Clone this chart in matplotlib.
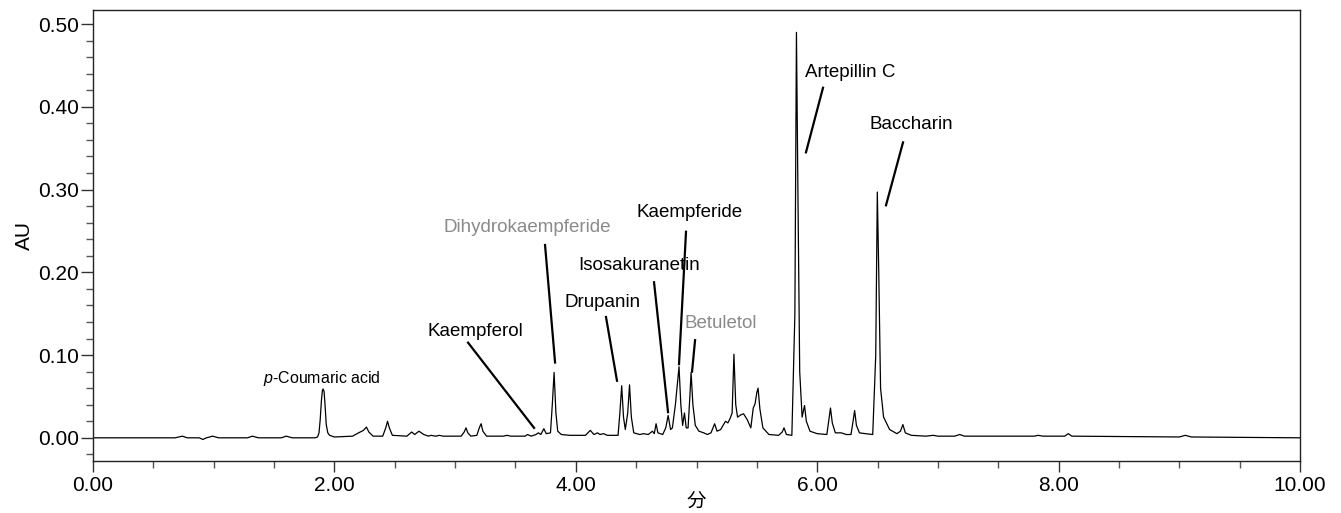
import matplotlib
matplotlib.use("Agg")
import matplotlib.pyplot as plt
from matplotlib.ticker import MultipleLocator, FormatStrFormatter

# chromatogram trace (retention time in min, absorbance in AU)
time_min = [
    0.00, 0.68, 0.74, 0.78, 0.88, 0.91, 0.94, 0.99, 1.04, 1.28, 1.32, 1.37,
    1.56, 1.60, 1.65, 1.84,
    1.86, 1.872, 1.882, 1.892, 1.900, 1.906, 1.914, 1.922, 1.932, 1.945, 1.96, 2.00,
    2.15, 2.20, 2.24, 2.265, 2.285, 2.32, 2.40, 2.425, 2.44, 2.455, 2.48,
    2.60, 2.64, 2.665, 2.70, 2.74, 2.78, 2.80, 2.84, 2.87, 2.90,
    3.05, 3.075, 3.09, 3.105, 3.13, 3.18, 3.20, 3.215, 3.23, 3.26,
    3.40, 3.43, 3.46, 3.58, 3.60, 3.63, 3.67, 3.69, 3.71, 3.735, 3.755,
    3.79, 3.805, 3.82, 3.835, 3.85, 3.88, 3.95,
    4.08, 4.12, 4.15, 4.18, 4.20, 4.23, 4.26,
    4.35, 4.365, 4.38, 4.395, 4.41, 4.43, 4.445, 4.46, 4.48,
    4.53, 4.56, 4.60, 4.635, 4.65, 4.665, 4.68, 4.72, 4.745, 4.765, 4.785,
    4.80, 4.825, 4.855, 4.87, 4.885, 4.90, 4.915, 4.93, 4.945, 4.955, 4.97,
    4.99, 5.02, 5.06, 5.09, 5.12, 5.15, 5.17, 5.20, 5.24, 5.26, 5.28, 5.295,
    5.31, 5.325, 5.34, 5.37, 5.39, 5.42, 5.45, 5.47, 5.485, 5.50, 5.51,
    5.525, 5.55, 5.60, 5.68, 5.71, 5.725, 5.745, 5.79,
    5.815, 5.828, 5.84, 5.855, 5.875, 5.895, 5.91, 5.94, 6.00,
    6.08, 6.095, 6.11, 6.125, 6.15, 6.20, 6.24, 6.28, 6.295, 6.31, 6.325,
    6.35, 6.40, 6.46, 6.485, 6.498, 6.51, 6.525, 6.55, 6.60, 6.66, 6.69,
    6.71, 6.73, 6.78, 6.90, 6.96, 7.00, 7.14, 7.18, 7.22, 7.60, 7.80, 7.83,
    7.87, 8.05, 8.08, 8.11, 9.00, 9.05, 9.10, 9.50, 10.00,
]
absorbance = [
    0.000, 0.000, 0.002, 0.000, 0.000, -0.002, 0.000, 0.002, 0.000, 0.000, 0.002, 0.000,
    0.000, 0.002, 0.000, 0.000,
    0.001, 0.006, 0.022, 0.045, 0.057, 0.059, 0.056, 0.040, 0.016, 0.006, 0.003, 0.001,
    0.002, 0.006, 0.009, 0.013, 0.007, 0.002, 0.002, 0.012, 0.020, 0.012, 0.003,
    0.002, 0.007, 0.004, 0.008, 0.004, 0.002, 0.003, 0.002, 0.003, 0.002,
    0.002, 0.007, 0.012, 0.006, 0.002, 0.003, 0.012, 0.017, 0.008, 0.002,
    0.002, 0.003, 0.002, 0.002, 0.004, 0.002, 0.004, 0.006, 0.004, 0.011, 0.005,
    0.006, 0.040, 0.079, 0.030, 0.008, 0.004, 0.003,
    0.003, 0.009, 0.004, 0.006, 0.004, 0.005, 0.003,
    0.003, 0.030, 0.063, 0.025, 0.010, 0.030, 0.064, 0.025, 0.006,
    0.004, 0.005, 0.004, 0.008, 0.005, 0.017, 0.006, 0.004, 0.012, 0.027, 0.010,
    0.012, 0.040, 0.086, 0.040, 0.015, 0.030, 0.012, 0.012, 0.050, 0.079, 0.040,
    0.015, 0.008, 0.006, 0.004, 0.006, 0.017, 0.008, 0.010, 0.020, 0.018, 0.024, 0.030,
    0.101, 0.040, 0.025, 0.028, 0.029, 0.022, 0.012, 0.036, 0.041, 0.055, 0.060,
    0.035, 0.012, 0.004, 0.003, 0.007, 0.012, 0.004, 0.003,
    0.150, 0.490, 0.300, 0.080, 0.025, 0.039, 0.020, 0.008, 0.005,
    0.004, 0.020, 0.036, 0.018, 0.006, 0.006, 0.004, 0.004, 0.018, 0.033, 0.015,
    0.006, 0.005, 0.004, 0.100, 0.297, 0.200, 0.060, 0.025, 0.010, 0.005, 0.008,
    0.016, 0.006, 0.003, 0.002, 0.003, 0.002, 0.002, 0.004, 0.002, 0.002, 0.002, 0.003,
    0.002, 0.002, 0.005, 0.002, 0.001, 0.003, 0.001, 0.0005, 0.000,
]

# peak labels: text, text position, leader line (start, end), colour
compounds = ["Kaempferol", "Dihydrokaempferide", "Drupanin", "Isosakuranetin",
             "Kaempferide", "Betuletol", "Artepillin C", "Baccharin"]
label_pos = [(3.17, 0.128), (3.60, 0.254), (4.225, 0.163), (4.524, 0.208),
             (4.946, 0.272), (5.203, 0.138), (6.272, 0.442), (6.777, 0.379)]
line_from = [(3.107, 0.115), (3.745, 0.233), (4.250, 0.146), (4.648, 0.188),
             (4.913, 0.249), (4.988, 0.118), (6.048, 0.423), (6.711, 0.357)]
line_to = [(3.654, 0.012), (3.828, 0.091), (4.341, 0.069), (4.764, 0.031),
           (4.855, 0.089), (4.963, 0.080), (5.907, 0.345), (6.570, 0.281)]
label_colors = ["black", "#8a8a8a", "black", "black", "black", "#8a8a8a", "black", "black"]

plt.rcParams["font.family"] = ["Liberation Sans", "Noto Sans CJK JP", "DejaVu Sans"]
plt.rcParams["mathtext.fontset"] = "custom"
plt.rcParams["mathtext.it"] = "Liberation Sans:italic"
plt.rcParams["mathtext.rm"] = "Liberation Sans"

fig = plt.figure(figsize=(13.41, 5.13), dpi=100)
ax = fig.add_axes([0.0694, 0.1014, 0.9000, 0.8791])

ax.plot(time_min, absorbance, color="black", linewidth=0.9)

for name, pos, p0, p1, col in zip(compounds, label_pos, line_from, line_to, label_colors):
    ax.text(pos[0], pos[1], name, ha="center", va="center", fontsize=13.5, color=col)
    ax.plot([p0[0], p1[0]], [p0[1], p1[1]], color="black", linewidth=1.6)

ax.text(1.897, 0.072, "$p$-Coumaric acid", ha="center", va="center", fontsize=11.5)

ax.set_xlim(0, 10)
ax.set_ylim(-0.028, 0.517)

ax.xaxis.set_major_locator(MultipleLocator(2))
ax.xaxis.set_minor_locator(MultipleLocator(0.5))
ax.yaxis.set_major_locator(MultipleLocator(0.1))
ax.yaxis.set_minor_locator(MultipleLocator(0.02))
ax.xaxis.set_major_formatter(FormatStrFormatter("%.2f"))
ax.yaxis.set_major_formatter(FormatStrFormatter("%.2f"))

ax.tick_params(axis="both", which="major", direction="out", labelsize=15, width=1, color="#333333")
ax.tick_params(axis="y", which="major", length=9, pad=1)
ax.tick_params(axis="y", which="minor", length=5, width=1, color="#555555")
ax.tick_params(axis="x", which="major", length=8, pad=3)
ax.tick_params(axis="x", which="minor", length=5, width=1, color="#555555")

for side in ["left", "right", "top", "bottom"]:
    ax.spines[side].set_linewidth(1.0)
    ax.spines[side].set_color("#222222")

ax.set_xlabel("分", fontsize=14, labelpad=-1)
ax.set_ylabel("AU", fontsize=15, labelpad=3)

fig.savefig("out.png", dpi=100)
